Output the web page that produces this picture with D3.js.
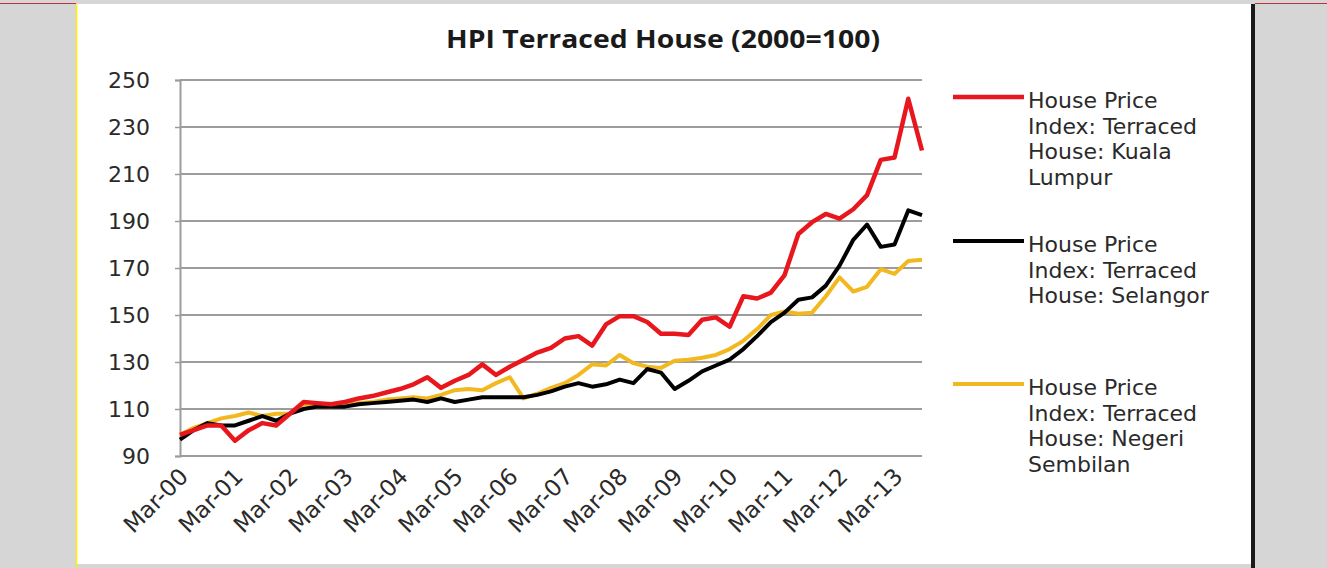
<!DOCTYPE html>
<html>
<head>
<meta charset="utf-8">
<title>HPI Terraced House</title>
<script src="https://cdn.jsdelivr.net/npm/d3@7"></script>
<style>
  body { margin: 0; background: #d6d6d6; }
  svg { display: block; }
</style>
</head>
<body>
<div class="chart"></div>
<script>
/**
 * HPI chart
 */

// Quarters
var quarters = [
  'Mar-00', 'Jun-00', 'Sep-00', 'Dec-00', 'Mar-01', 'Jun-01', 'Sep-01', 'Dec-01',
  'Mar-02', 'Jun-02', 'Sep-02', 'Dec-02', 'Mar-03', 'Jun-03', 'Sep-03', 'Dec-03',
  'Mar-04', 'Jun-04', 'Sep-04', 'Dec-04', 'Mar-05', 'Jun-05', 'Sep-05', 'Dec-05',
  'Mar-06', 'Jun-06', 'Sep-06', 'Dec-06', 'Mar-07', 'Jun-07', 'Sep-07', 'Dec-07',
  'Mar-08', 'Jun-08', 'Sep-08', 'Dec-08', 'Mar-09', 'Jun-09', 'Sep-09', 'Dec-09',
  'Mar-10', 'Jun-10', 'Sep-10', 'Dec-10', 'Mar-11', 'Jun-11', 'Sep-11', 'Dec-11',
  'Mar-12', 'Jun-12', 'Sep-12', 'Dec-12', 'Mar-13', 'Jun-13', 'Sep-13'
];

// Only every fourth quarter gets a label
var tickLabels = [
  'Mar-00', 'Mar-01', 'Mar-02', 'Mar-03', 'Mar-04', 'Mar-05', 'Mar-06',
  'Mar-07', 'Mar-08', 'Mar-09', 'Mar-10', 'Mar-11', 'Mar-12', 'Mar-13'
];

var yTicks = [90, 110, 130, 150, 170, 190, 210, 230, 250];

// Series values
var kualaLumpur = [
  99, 101, 103, 103, 96.5, 101, 104, 103, 108, 113,
  112.5, 112, 113, 114.5, 115.5, 117, 118.5, 120.5, 123.5, 119,
  122, 124.5, 129, 124.5, 128, 131, 134, 136, 140, 141,
  137, 146, 149.5, 149.5, 147, 142, 142, 141.5, 148, 149,
  145, 158, 157, 159.5, 167, 184.5, 189.5, 193, 191, 195,
  201, 216, 217, 242, 220
];

var selangor = [
  97, 101, 104, 103, 103, 105, 107, 105, 108, 110,
  111, 111, 111, 112, 112.5, 113, 113.5, 114, 113, 114.5,
  113, 114, 115, 115, 115, 115, 116, 117.5, 119.5, 121,
  119.5, 120.5, 122.5, 121, 127, 125.5, 118.5, 122, 126, 128.5,
  131, 135.5, 141, 147, 151, 156.5, 157.5, 162.5, 171, 182,
  188.5, 179, 180, 194.5, 192.5
];

var negeriSembilan = [
  99, 102, 104, 106, 107, 108.5, 107, 108, 108, 112,
  111, 111, 112, 112.5, 113, 114, 114.5, 115, 114.5, 116,
  118, 118.5, 118, 121, 123.5, 114.5, 116.5, 119, 121, 124.5,
  129, 128.5, 133, 129.5, 128, 127.5, 130.5, 131, 131.8, 133,
  135.5, 139, 144, 150, 151.5, 150.5, 151, 158, 166, 160,
  162, 169.5, 167.5, 173, 173.5
];

// Legend text, already wrapped like the original
var legendLines = [
  ['House Price', 'Index: Terraced', 'House: Kuala', 'Lumpur'],
  ['House Price', 'Index: Terraced', 'House: Selangor'],
  ['House Price', 'Index: Terraced', 'House: Negeri', 'Sembilan']
];

var series = [
  { values: kualaLumpur, color: '#e8171d', width: 4.5, legendY: 97 },
  { values: selangor, color: '#000000', width: 4, legendY: 241 },
  { values: negeriSembilan, color: '#f2b820', width: 4, legendY: 384 }
];

var width = 1327, height = 568;

var svg = d3.select('.chart').append('svg')
  .attr('width', width)
  .attr('height', height);

// Frame: grey page, white sheet, thin borders
svg.append('rect')
  .attr('width', width).attr('height', height)
  .attr('fill', '#d6d6d6');

svg.append('rect')
  .attr('x', 77).attr('y', 4)
  .attr('width', 1174).attr('height', 560)
  .attr('fill', '#ffffff');

svg.append('line')
  .attr('x1', 76.5).attr('x2', 76.5).attr('y1', 4).attr('y2', height)
  .attr('stroke', '#ffee00').attr('stroke-width', 1.5);

svg.append('rect')
  .attr('x', 1251).attr('y', 4)
  .attr('width', 4).attr('height', height - 4)
  .attr('fill', '#1a1a1a');

svg.append('line')
  .attr('x1', 0).attr('x2', 76).attr('y1', 3.5).attr('y2', 3.5)
  .attr('stroke', '#c0303a').attr('stroke-width', 1);

svg.append('line')
  .attr('x1', 1255).attr('x2', width).attr('y1', 3.5).attr('y2', 3.5)
  .attr('stroke', '#c0303a').attr('stroke-width', 1);

// Scales
var x = d3.scalePoint()
  .domain(quarters)
  .range([180, 922]);

var y = d3.scaleLinear()
  .domain([90, 250])
  .range([456, 80]);

// Title
svg.append('text')
  .attr('x', 663).attr('y', 48)
  .attr('text-anchor', 'middle')
  .attr('font-family', 'Open Sans, sans-serif')
  .attr('font-weight', 'bold')
  .attr('font-size', 25)
  .attr('textLength', 434)
  .attr('lengthAdjust', 'spacingAndGlyphs')
  .attr('fill', '#1a1a1a')
  .text('HPI Terraced House (2000=100)');

// Gridlines
svg.append('g')
  .selectAll('line')
  .data(yTicks)
  .enter().append('line')
  .attr('x1', 180).attr('x2', 922)
  .attr('y1', function(d) { return y(d); })
  .attr('y2', function(d) { return y(d); })
  .attr('stroke', '#9c9c9c')
  .attr('stroke-width', 2);

// Y axis
var yAxis = svg.append('g')
  .attr('transform', 'translate(180,0)')
  .call(d3.axisLeft(y).tickValues(yTicks).tickSize(5).tickPadding(25));

yAxis.select('.domain').attr('stroke', '#9c9c9c').attr('stroke-width', 2);
yAxis.selectAll('.tick line').attr('stroke', '#9c9c9c').attr('stroke-width', 1.5);
yAxis.selectAll('.tick text')
  .attr('font-family', 'DejaVu Sans, Verdana, sans-serif')
  .attr('font-size', 22)
  .attr('fill', '#2a2a2a');

// X axis
var xAxis = svg.append('g')
  .attr('transform', 'translate(0,456)')
  .call(d3.axisBottom(x).tickValues(tickLabels).tickSize(0).tickPadding(0));

xAxis.select('.domain').remove();
xAxis.selectAll('.tick text')
  .attr('font-family', 'DejaVu Sans, Verdana, sans-serif')
  .attr('font-size', 23)
  .attr('fill', '#2a2a2a')
  .attr('text-anchor', 'end')
  .attr('dy', 0)
  .attr('transform', 'translate(9,22) rotate(-45)');

// Lines
var line = d3.line()
  .x(function(d, i) { return x(quarters[i]); })
  .y(function(d) { return y(d); });

svg.append('g')
  .selectAll('path')
  .data(series.slice().reverse())
  .enter().append('path')
  .attr('d', function(s) { return line(s.values); })
  .attr('fill', 'none')
  .attr('stroke', function(s) { return s.color; })
  .attr('stroke-width', function(s) { return s.width; })
  .attr('stroke-linejoin', 'round');

// Legend
var legend = svg.append('g')
  .selectAll('g')
  .data(series)
  .enter().append('g');

legend.append('line')
  .attr('x1', 953).attr('x2', 1024)
  .attr('y1', function(s) { return s.legendY; })
  .attr('y2', function(s) { return s.legendY; })
  .attr('stroke', function(s) { return s.color; })
  .attr('stroke-width', function(s) { return s.width; });

legend.append('text')
  .attr('font-family', 'DejaVu Sans, Verdana, sans-serif')
  .attr('font-size', 22)
  .attr('fill', '#2a2a2a')
  .each(function(s, si) {
    d3.select(this).selectAll('tspan')
      .data(legendLines[si])
      .enter().append('tspan')
      .attr('x', 1028)
      .attr('y', function(d, i) { return s.legendY + 11 + i * 25.5; })
      .text(function(d) { return d; });
  });
</script>
</body>
</html>
